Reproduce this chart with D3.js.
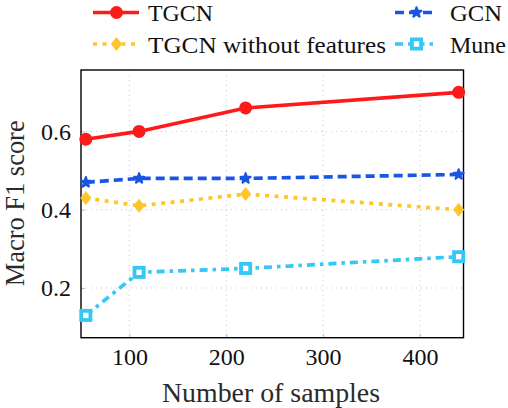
<!DOCTYPE html>
<html><head><meta charset="utf-8">
<script src="https://cdn.jsdelivr.net/npm/d3@7"></script>
<style>body{margin:0;background:#fff}svg{display:block}</style>
</head><body><svg id="c" width="508" height="408"></svg>
<script>
const samples = [55, 110, 220, 440];
const tgcn = [0.58, 0.60, 0.66, 0.70];
const gcn = [0.47, 0.48, 0.48, 0.49];
const tgcnNoFeat = [0.43, 0.41, 0.44, 0.40];
const mune = [0.13, 0.24, 0.25, 0.28];
const xTicks = [100, 200, 300, 400];
const yTicks = [0.2, 0.4, 0.6];
const seriesNames = ["TGCN", "GCN", "TGCN without features", "Mune"];

const FONT = "Liberation Serif";
const svg = d3.select("#c");
const L = 81, R = 463.5, T = 70, B = 337.7;
const x = d3.scaleLinear().domain([50, 445]).range([L, R]);
const y = d3.scaleLinear().domain([0.073, 0.757]).range([B, T]);

const series = [
  {name: seriesNames[0], vals: tgcn, color: "#ff1a1a", dash: null, marker: "circle", tl: 65},
  {name: seriesNames[1], vals: gcn, color: "#1a55e6", dash: "9,5", marker: "star", tl: 52},
  {name: seriesNames[2], vals: tgcnNoFeat, color: "#ffc629", dash: "4,5.5", marker: "diamond", tl: 238},
  {name: seriesNames[3], vals: mune, color: "#33c8f5", dash: "8,5,3.5,5", marker: "square", tl: 56}
];

// grid
const grid = svg.append("g");
grid.selectAll("line.gx").data(xTicks).join("line")
  .attr("x1", d => x(d)).attr("x2", d => x(d)).attr("y1", T).attr("y2", B)
  .attr("stroke", "#c8c8c8").attr("stroke-width", 1).attr("stroke-dasharray", "1,4");
grid.selectAll("line.gy").data(yTicks).join("line")
  .attr("y1", d => y(d)).attr("y2", d => y(d)).attr("x1", L).attr("x2", R)
  .attr("stroke", "#c8c8c8").attr("stroke-width", 1).attr("stroke-dasharray", "1,4");

// axes
const xAxis = d3.axisBottom(x).tickValues(xTicks).tickSize(-4).tickPadding(10).tickFormat(d3.format("d"));
const gx = svg.append("g").attr("transform", `translate(0,${B})`).call(xAxis)
  .attr("font-family", FONT).attr("font-size", 24);
gx.select(".domain").remove();
gx.selectAll(".tick line").attr("stroke", "#bbb");
gx.selectAll(".tick text").attr("font-family", FONT).style("font-family", FONT).style("font-size", "24px")
  .attr("fill", "#111").attr("dy", "0.71em");

const yAxis = d3.axisLeft(y).tickValues(yTicks).tickSize(-4).tickPadding(10).tickFormat(d3.format(".1f"));
const gy = svg.append("g").attr("transform", `translate(${L},0)`).call(yAxis)
  .attr("font-family", FONT).attr("font-size", 24);
gy.select(".domain").remove();
gy.selectAll(".tick line").attr("stroke", "#bbb");
gy.selectAll(".tick text").attr("font-family", FONT).style("font-family", FONT).style("font-size", "24px")
  .attr("fill", "#111");

// frame
svg.append("rect").attr("x", L).attr("y", T).attr("width", R - L).attr("height", B - T)
  .attr("fill", "none").attr("stroke", "#000").attr("stroke-width", 1.4);

function drawMarker(g, type, cx, cy, color) {
  if (type === "circle") {
    g.append("circle").attr("cx", cx).attr("cy", cy).attr("r", 6.5).attr("fill", color);
  } else if (type === "star") {
    g.append("path").attr("d", d3.symbol(d3.symbolStar, 30)()).attr("transform", `translate(${cx},${cy})`)
      .attr("fill", color).attr("stroke", color).attr("stroke-width", 2.2).attr("stroke-linejoin", "round");
  } else if (type === "diamond") {
    g.append("path").attr("d", `M0,-7L5.6,0L0,7L-5.6,0Z`).attr("transform", `translate(${cx},${cy})`)
      .attr("fill", color);
  } else if (type === "square") {
    g.append("rect").attr("x", cx - 4.6).attr("y", cy - 4.6).attr("width", 9.2).attr("height", 9.2)
      .attr("fill", "#fff").attr("stroke", color).attr("stroke-width", 3.8);
  }
}

const line = d3.line().x((d, i) => x(samples[i])).y(d => y(d));
const plot = svg.append("g");
series.forEach(s => {
  plot.append("path").attr("d", line(s.vals)).attr("fill", "none")
    .attr("stroke", s.color).attr("stroke-width", 3.7)
    .attr("stroke-dasharray", s.dash);
});
series.forEach(s => {
  s.vals.forEach((v, i) => drawMarker(plot, s.marker, x(samples[i]), y(v), s.color));
});

// legend
const legendPos = [
  {lx1: 93, lx2: 139, mx: 116.5, tx: 148, y: 12.5},
  {lx1: 395, lx2: 437, mx: 416.5, tx: 450, y: 12.5},
  {lx1: 93, lx2: 139, mx: 116.5, tx: 148, y: 44},
  {lx1: 395, lx2: 437, mx: 416.5, tx: 450, y: 44}
];
const lg = svg.append("g");
series.forEach((s, i) => {
  const p = legendPos[i];
  lg.append("line").attr("x1", p.lx1).attr("x2", p.lx2).attr("y1", p.y).attr("y2", p.y)
    .attr("stroke", s.color).attr("stroke-width", 3.7).attr("stroke-dasharray", s.dash);
  drawMarker(lg, s.marker, p.mx, p.y, s.color);
  lg.append("text").attr("x", p.tx).attr("y", p.y + 8.5)
    .style("font-size", "23.5px").style("font-family", FONT).attr("fill", "#111")
    .attr("textLength", s.tl).attr("lengthAdjust", "spacingAndGlyphs").text(s.name);
});

// axis labels
svg.append("text").attr("x", 271).attr("y", 402).attr("text-anchor", "middle")
  .style("font-size", "27px").style("font-family", FONT).attr("fill", "#2a2a2a")
  .attr("textLength", 218).attr("lengthAdjust", "spacingAndGlyphs").text("Number of samples");
svg.append("text").attr("transform", `translate(24,${(T + B) / 2 - 0.5}) rotate(-90)`).attr("text-anchor", "middle")
  .style("font-size", "26.5px").style("font-family", FONT).attr("fill", "#2a2a2a")
  .attr("textLength", 166).attr("lengthAdjust", "spacingAndGlyphs").text("Macro F1 score");
</script></body></html>
